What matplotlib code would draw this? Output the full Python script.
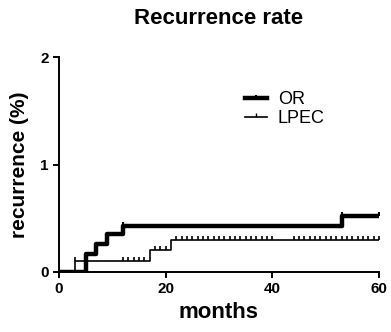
import matplotlib
matplotlib.use("Agg")
import matplotlib.pyplot as plt
from matplotlib.lines import Line2D

plt.rcParams['font.family'] = ['Liberation Sans', 'DejaVu Sans']

# Kaplan-Meier style step data (months, recurrence %)
or_times = [0, 5, 7, 9, 12, 53, 60]
or_values = [0, 0.17, 0.26, 0.35, 0.43, 0.52, 0.52]
or_censor_t = [12, 53, 60]
or_censor_v = [0.43, 0.52, 0.52]

lpec_times = [0, 3, 17, 21, 60]
lpec_values = [0, 0.1, 0.2, 0.3, 0.3]
lpec_censor_t = [3, 12, 13, 14, 15, 16, 18, 19, 20,
                 22, 23, 24, 25, 26, 27, 28, 29, 30, 31, 32, 33, 34, 35, 36, 37, 38, 39, 40,
                 44, 45, 46, 47, 48, 49, 50, 51, 52, 53, 54, 55, 56, 57, 58, 59, 60]
lpec_censor_v = [0.1, 0.1, 0.1, 0.1, 0.1, 0.1, 0.2, 0.2, 0.2,
                 0.3, 0.3, 0.3, 0.3, 0.3, 0.3, 0.3, 0.3, 0.3, 0.3, 0.3, 0.3, 0.3, 0.3, 0.3, 0.3, 0.3, 0.3, 0.3,
                 0.3, 0.3, 0.3, 0.3, 0.3, 0.3, 0.3, 0.3, 0.3, 0.3, 0.3, 0.3, 0.3, 0.3, 0.3, 0.3, 0.3]

x_ticks = [0, 20, 40, 60]
y_ticks = [0, 1, 2]

fig = plt.figure(figsize=(3.91, 3.32), dpi=100)
ax = fig.add_axes([0.151, 0.181, 0.818, 0.647])

ax.step(lpec_times, lpec_values, where='post', color='black', lw=1.2)
ax.plot(lpec_censor_t, lpec_censor_v, ls='none', marker=2, ms=3, mew=1.2, color='black')
ax.step(or_times, or_values, where='post', color='black', lw=3.2)
ax.plot(or_censor_t, or_censor_v, ls='none', marker=2, ms=3, mew=1.5, color='black')

ax.set_xlim(0, 60)
ax.set_ylim(0, 2)
ax.set_xticks(x_ticks)
ax.set_yticks(y_ticks)
ax.spines['top'].set_visible(False)
ax.spines['right'].set_visible(False)
ax.spines['left'].set_linewidth(1.4)
ax.spines['bottom'].set_linewidth(1.4)
ax.tick_params(width=1.4, length=4, labelsize=11)
for lab in ax.get_xticklabels() + ax.get_yticklabels():
    lab.set_fontweight('bold')

ax.set_xlabel('months', fontsize=16, fontweight='bold', labelpad=4)
ax.set_ylabel('recurrence (%)', fontsize=15, fontweight='bold', labelpad=8)
ax.set_title('Recurrence rate', fontsize=16, fontweight='bold', pad=24)

handles = [Line2D([], [], color='black', lw=3.2, marker=2, ms=2.5, mew=1.5, markevery=[1]),
           Line2D([], [], color='black', lw=1.2, marker=2, ms=3, mew=1.0, markevery=[1])]
ax.legend(handles, ['OR', 'LPEC'], loc='upper left', bbox_to_anchor=(0.56, 0.875),
          frameon=False, fontsize=13, handlelength=1.2, handletextpad=0.6,
          labelspacing=0.1, borderaxespad=0)

fig.savefig('out.png', dpi=100)
